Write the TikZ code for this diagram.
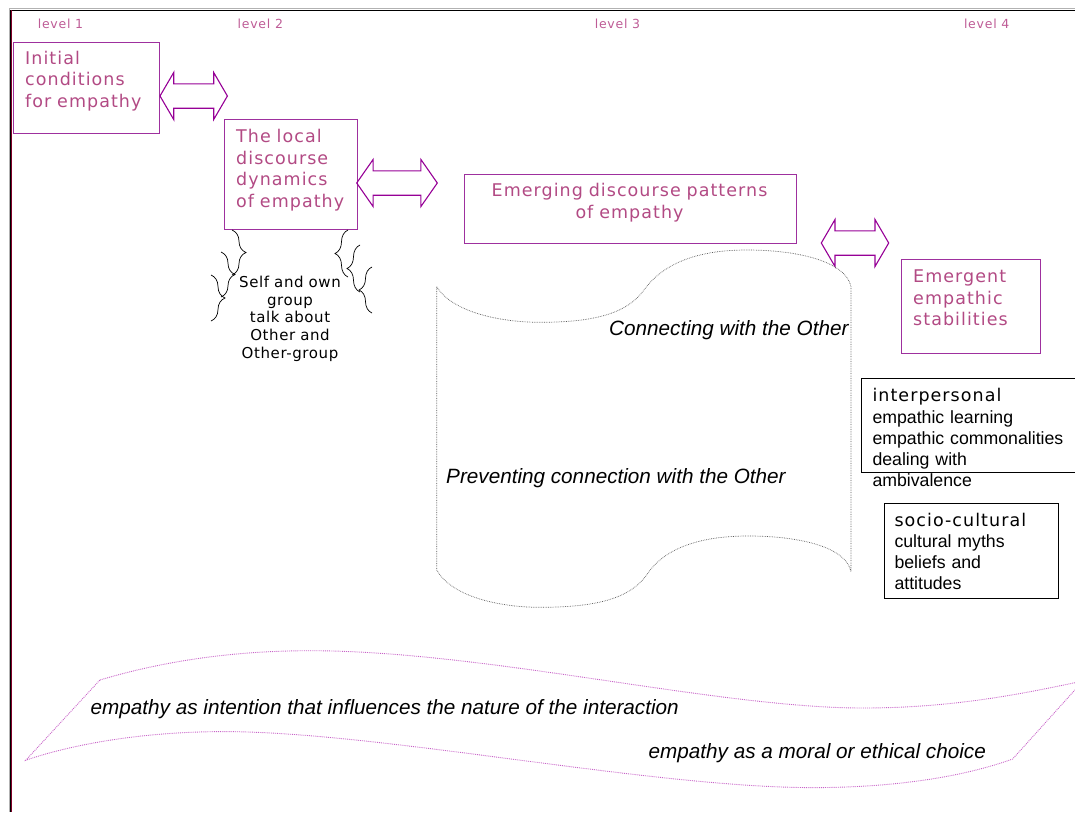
\documentclass[tikz,border=0pt]{standalone}
\usepackage{fontspec}
\usetikzlibrary{decorations.pathreplacing}
\newfontfamily\vfont[LetterSpace=6]{DejaVu Sans}
\newfontfamily\vfontn[LetterSpace=4]{DejaVu Sans}
\newfontfamily\afont{Liberation Sans}
\definecolor{pinktext}{RGB}{178,74,132}
\definecolor{levelpink}{RGB}{190,92,150}
\definecolor{boxpurple}{RGB}{158,48,158}
\definecolor{arrpurple}{RGB}{150,0,150}
\definecolor{bandpink}{RGB}{200,100,200}
\definecolor{scrollgray}{RGB}{90,90,90}
\definecolor{maroon}{RGB}{128,0,40}
\tikzset{
  pbox/.style={draw=boxpurple, line width=1.1pt, inner sep=0pt, anchor=north west},
  kbox/.style={draw=black, line width=1pt, inner sep=0pt, anchor=north west},
  ptext/.style={font=\vfont\fontsize{17.5}{21.6}\selectfont, text=pinktext, inner sep=0pt,
    anchor=base west, text width=160pt, align=left},
  lvl/.style={font=\vfont\fontsize{12.5}{14}\selectfont, text=levelpink, inner sep=0pt, anchor=base},
  kbody/.style={font=\afont\fontsize{17.7}{21.3}\selectfont, text=black, inner sep=0pt,
    anchor=base west, text width=220pt, align=left},
  itext/.style={font=\afont\itshape\fontsize{20.7}{24}\selectfont, text=black, inner sep=0pt, anchor=base west},
  arrline/.style={draw=arrpurple, line width=1.1pt, line join=miter},
  brc/.style={decorate, decoration={brace, amplitude=#1}, draw=black, line width=0.7pt},
  brc/.default=14pt,
  scrollline/.style={draw=scrollgray, densely dotted, line width=0.7pt},
  bandline/.style={draw=bandpink, densely dotted, line width=0.9pt},
  dblarr/.pic={\draw[arrline] (-33.7,0) -- (-20,-23.5) -- (-20,-12.2) -- (20,-12.2) -- (20,-23.5)
     -- (33.7,0) -- (20,23.5) -- (20,12.2) -- (-20,12.2) -- (-20,23.5) -- cycle;}
}
\begin{document}
\begin{tikzpicture}[x=1pt,y=-1pt]
\useasboundingbox (0,0) rectangle (1075,812);
\clip (0,0) rectangle (1075,812);

% page frame
\draw[gray!60, line width=0.7pt] (9.2,812) -- (9.2,8.8) -- (1075,8.8);
\draw[black, line width=0.8pt] (10.4,812) -- (10.4,9.9) -- (1075,9.9);
\draw[maroon, line width=0.6pt] (11.5,10.4) -- (11.5,812);

% level headings
\node[lvl] (lv1) at (60.5,28.3) {level 1};
\node[lvl] (lv2) at (260.3,28.3) {level 2};
\node[lvl] (lv3) at (617.5,28.3) {level 3};
\node[lvl] (lv4) at (986.7,28.3) {level 4};

% level boxes
\node[pbox, minimum width=146pt, minimum height=91pt] (b1) at (13,42) {};
\node[ptext] (b1t) at (25,64) {Initial\\conditions\\for empathy};

\node[pbox, minimum width=133pt, minimum height=110pt] (b2) at (224,119.3) {};
\node[ptext] (b2t) at (236,142.7) {The local\\discourse\\dynamics\\of empathy};

\node[pbox, minimum width=332pt, minimum height=68.5pt] (b3) at (463.5,174.3) {};
\node[ptext, anchor=base, text width=330pt, align=center] (b3t) at (629.5,196.7)
  {Emerging discourse patterns\\of empathy};

\node[pbox, minimum width=139pt, minimum height=94pt] (b4) at (901,259.3) {};
\node[ptext] (b4t) at (913,282.7) {Emergent\\empathic\\stabilities};

% block arrows between levels
\pic (a12) at (193.7,96) {dblarr};
\pic[xscale=1.196] (a23) at (397,183) {dblarr};
\pic (a34) at (855,243) {dblarr};

% braces under the local dynamics box
\draw[brc] (232,230) -- (232,275);
\draw[brc] (221,252) -- (221,297);
\draw[brc] (211,275) -- (211,321);
\draw[brc=13pt] (348,277) -- (348,230);
\draw[brc=13pt] (360,292) -- (360,245);
\draw[brc=13pt] (372,313) -- (372,267);

\node[font=\vfontn\fontsize{15}{17.8}\selectfont, inner sep=0pt, anchor=base,
  text width=140pt, align=center] (talk) at (290,287.3)
  {Self and own\\group\\talk about\\Other and\\Other-group};

% scroll of discourse patterns
\draw[scrollline]
  (436.7,286.7) .. controls (452,312) and (500,322.3) .. (540,322.3)
  .. controls (598,322.3) and (628,312) .. (644,290)
  .. controls (664,262) and (700,250) .. (746.7,250)
  .. controls (800,250) and (846,262) .. (851,286.7)
  -- (851,571.7)
  .. controls (846,547) and (800,536) .. (748.3,536)
  .. controls (700,536) and (664,548) .. (646.7,575)
  .. controls (630,598) and (598,607.3) .. (540,607.3)
  .. controls (500,607.3) and (452,597) .. (436.7,570)
  -- cycle;
\node[itext] (conn) at (609,335.7) {Connecting with the Other};
\node[itext] (prev) at (446,483) {Preventing connection with the Other};

% emergent stabilities
\node[kbox, minimum width=240pt, minimum height=93.4pt] (ip) at (861.3,378.3) {};
\node[kbody] (ipt) at (872.3,401.7)
  {{\vfont\fontsize{17.5}{21.3}\selectfont interpersonal}\\empathic learning\\empathic commonalities\\dealing with\\ambivalence};

\node[kbox, minimum width=174.3pt, minimum height=94.4pt] (sc) at (884,503.3) {};
\node[kbody] (sct) at (894.3,526)
  {{\vfont\fontsize{17.5}{21.3}\selectfont socio-cultural}\\cultural myths\\beliefs and\\attitudes};

% banner of empathy as intention / choice
\draw[bandline]
  (99.9,680) .. controls (160,662) and (230,650.7) .. (310,650.7)
  .. controls (480,650.7) and (700,704) .. (847,707.8)
  .. controls (950,710) and (1030,692) .. (1083,681)
  -- (1012.6,759)
  .. controls (960,778) and (890,787.6) .. (813,787.6)
  .. controls (650,787.6) and (380,731.6) .. (223.9,731.6)
  .. controls (140,731.6) and (70,745) .. (25.8,760.2)
  -- cycle;
\node[itext] (int) at (90.5,714) {empathy as intention that influences the nature of the interaction};
\node[itext] (mor) at (648.5,758.5) {empathy as a moral or ethical choice};
\end{tikzpicture}
\end{document}
